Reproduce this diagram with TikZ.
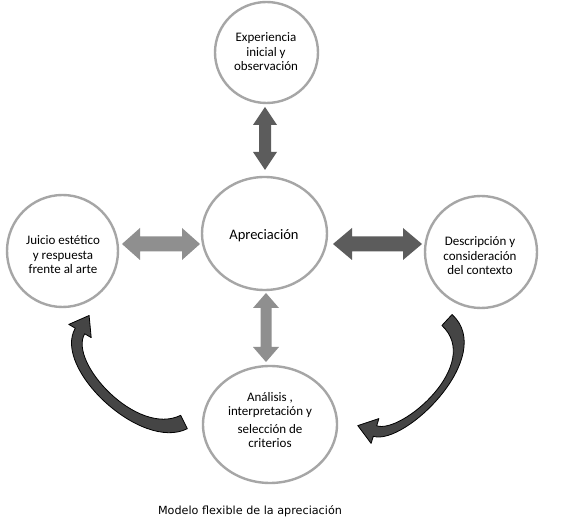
\documentclass[tikz,border=0pt]{standalone}
\usepackage{fontspec}
\setmainfont{Carlito}
\newfontfamily\capfont{DejaVu Sans}
\usetikzlibrary{shapes.geometric}
\definecolor{ringgray}{HTML}{A6A6A6}
\definecolor{darkarrow}{HTML}{5C5C5C}
\definecolor{lightarrow}{HTML}{8F8F8F}
\definecolor{curvefill}{HTML}{454545}
\tikzset{
  ring/.style={ellipse, draw=ringgray, line width=2.4pt, fill=white, inner sep=0pt},
  ringtext/.style={align=center, font=\fontsize{13}{14.5}\selectfont, inner sep=0pt},
  darkblock/.style={fill=darkarrow, draw=none},
  lightblock/.style={fill=lightarrow, draw=none},
  curvearrow/.style={fill=curvefill, draw=black, line width=0.8pt, line join=round},
}
\begin{document}
\begin{tikzpicture}[x=1pt,y=-1pt]
\useasboundingbox[fill=white] (0,0) rectangle (566,526);

% rings
\node[ring, minimum width=103pt, minimum height=101pt] (top) at (266.5,52.5) {};
\node[ring, minimum width=125pt, minimum height=113pt] (center) at (264.5,233.5) {};
\node[ring, minimum width=111pt, minimum height=112pt] (left) at (62.5,251) {};
\node[ring, minimum width=112pt, minimum height=112pt] (right) at (481,252) {};
\node[ring, minimum width=134pt, minimum height=117pt] (bottom) at (270,424.5) {};

% texts
\node[ringtext] (toptext) at (266,52) {Experiencia\\inicial y\\observación};
\node[ringtext, font=\fontsize{14.5}{16}\selectfont] (centertext) at (264,236) {Apreciación};
\node[ringtext] (lefttext) at (63,255) {Juicio estético\\y respuesta\\frente al arte};
\node[ringtext] (righttext) at (480,256) {Descripción y\\consideración\\del contexto};
\node[ringtext, font=\fontsize{13}{14}\selectfont] (bottomtext) at (270,420) {Análisis ,\\interpretación y\\[3.5pt]selección de\\criterios};
\node[font=\capfont\fontsize{11.2}{13}\selectfont, inner sep=0pt] (caption) at (250,511) {Modelo flexible de la apreciación};

% straight double block arrows
\fill[darkblock] (265,107) -- (277,125) -- (271,125) -- (271,152) -- (277,152) -- (265,170)
  -- (253,152) -- (259,152) -- (259,125) -- (253,125) -- cycle;
\fill[lightblock] (266,293) -- (279,308) -- (271.5,308) -- (271.5,347) -- (279,347) -- (266,362)
  -- (253,347) -- (260.5,347) -- (260.5,308) -- (253,308) -- cycle;
\fill[lightblock] (122,244) -- (140,228) -- (140,236.5) -- (182,236.5) -- (182,228) -- (200,244)
  -- (182,260) -- (182,251.5) -- (140,251.5) -- (140,260) -- cycle;
\fill[darkblock] (333,244) -- (352,228) -- (352,236.5) -- (403,236.5) -- (403,228) -- (422,244)
  -- (403,260) -- (403,251.5) -- (352,251.5) -- (352,260) -- cycle;

% curved arrows (tapering band + head)
\filldraw[curvearrow] (187.3,428.7) .. controls (141,452) and (52,368) .. (75.3,328.2)
  -- (68.8,324.4) -- (89.1,315.5) -- (91.2,337.6) -- (84.7,333.8)
  .. controls (68,362) and (137,437) .. (180.7,415.3) -- cycle;

\filldraw[curvearrow] (452.1,314.5) .. controls (497,356) and (405,446) .. (373.3,436.3)
  -- (371.1,443.4) -- (357.8,425.6) -- (378.9,418.6) -- (376.7,425.8)
  .. controls (402,434) and (483,364) .. (441.9,325.5) -- cycle;
\end{tikzpicture}
\end{document}
